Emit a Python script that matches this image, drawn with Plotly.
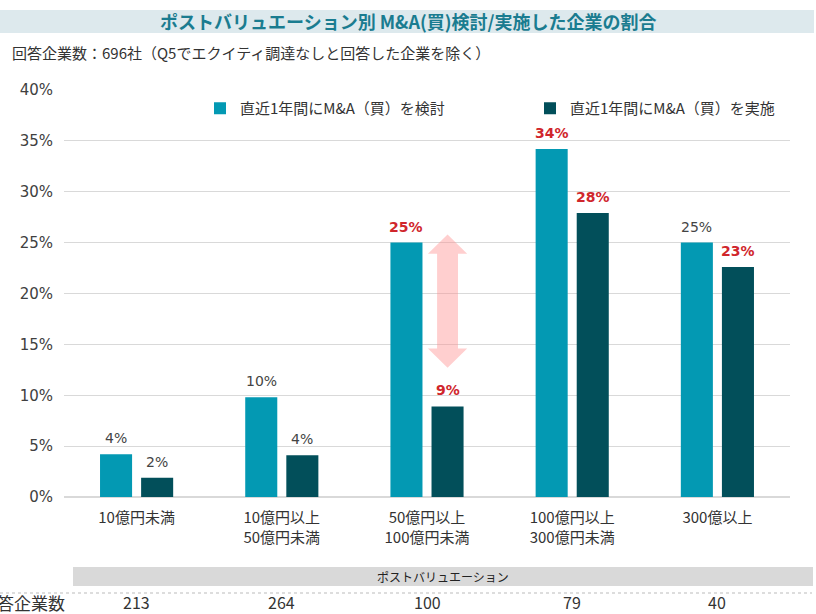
import plotly.graph_objects as go

categories = ["10億円未満", "10億円以上<br>50億円未満", "50億円以上<br>100億円未満", "100億円以上<br>300億円未満", "300億以上"]
considered = [4.2, 9.8, 25.0, 34.2, 25.0]
executed = [1.9, 4.1, 8.9, 27.9, 22.6]
considered_highlight = [False, False, True, True, False]
executed_highlight = [False, False, True, True, True]
respondents = [213, 264, 100, 79, 40]
name_considered = "直近1年間にM&A（買）を検討"
name_executed = "直近1年間にM&A（買）を実施"
title_text = "ポストバリュエーション別 M&A(買)検討/実施した企業の割合"
subtitle_text = "回答企業数：696社（Q5でエクイティ調達なしと回答した企業を除く）"
band_text = "ポストバリュエーション"
row_label = "回答企業数"
y_ticks = [0, 5, 10, 15, 20, 25, 30, 35, 40]
y_ticktext = [f"{v}%" for v in y_ticks]
arrow_top = 25.8
arrow_bottom = 12.7

TEAL = "#0399B3"
DARK = "#024F5A"
RED = "#D0262C"
GREY = "#444444"
FONT = "Noto Sans CJK JP, Noto Sans, sans-serif"
NUMFONT = "DejaVu Sans, sans-serif"

W, H = 816, 614
L, R, T, B = 64, 26, 90, 117
PW, PH = W - L - R, H - T - B


def px_x(x):
    return (x - L) / PW


def px_y(y):
    return (H - B - y) / PH


x_idx = list(range(len(categories)))
OFF = 0.1415

fig = go.Figure()
fig.add_trace(go.Bar(x=x_idx, y=considered, name=name_considered, marker_color=TEAL,
                     marker_line_width=0, legend="legend"))
fig.add_trace(go.Bar(x=x_idx, y=executed, name=name_executed, marker_color=DARK,
                     marker_line_width=0, legend="legend2"))

annotations = []
for i, (v, h) in enumerate(zip(considered, considered_highlight)):
    t = f"{round(v)}%"
    annotations.append(dict(x=i - OFF, y=v, xref="x", yref="y", yanchor="bottom", yshift=6,
                            text=f"<b>{t}</b>" if h else t, showarrow=False,
                            font=dict(size=14, color=RED if h else GREY, family=NUMFONT)))
for i, (v, h) in enumerate(zip(executed, executed_highlight)):
    t = f"{round(v)}%"
    annotations.append(dict(x=i + OFF, y=v, xref="x", yref="y", yanchor="bottom", yshift=6,
                            text=f"<b>{t}</b>" if h else t, showarrow=False,
                            font=dict(size=14, color=RED if h else GREY, family=NUMFONT)))
for i, n in enumerate(respondents):
    annotations.append(dict(x=i, y=px_y(602), xref="x", yref="paper", yanchor="middle",
                            text=str(n), showarrow=False,
                            font=dict(size=16, color="#333333", family=FONT)))
annotations.append(dict(x=px_x(67), y=px_y(602), xref="paper", yref="paper", xanchor="right",
                        yanchor="middle", text=row_label, showarrow=False,
                        font=dict(size=17, color="#333333", family=FONT)))
annotations.append(dict(x=px_x((73 + 813) / 2), y=px_y(576), xref="paper", yref="paper",
                        xanchor="center", yanchor="middle", text=band_text, showarrow=False,
                        font=dict(size=12, color="#222222", family=FONT)))
annotations.append(dict(x=px_x(W / 2), y=px_y(21), xref="paper", yref="paper", xanchor="center",
                        yanchor="middle", text=f"<b>{title_text}</b>", showarrow=False,
                        font=dict(size=18, color="#1A7C90", family=FONT)))
annotations.append(dict(x=px_x(10), y=px_y(52), xref="paper", yref="paper", xanchor="left",
                        yanchor="middle", text=subtitle_text, showarrow=False,
                        font=dict(size=15, color="#333333", family=FONT)))

# pink double arrow over the executed bar of the 3rd category
ax = 2 + OFF
hw = 0.135
sw = 0.072
hh = 1.9
path = (f"M {ax} {arrow_top} L {ax+hw} {arrow_top-hh} L {ax+sw} {arrow_top-hh} "
        f"L {ax+sw} {arrow_bottom+hh} L {ax+hw} {arrow_bottom+hh} L {ax} {arrow_bottom} "
        f"L {ax-hw} {arrow_bottom+hh} L {ax-sw} {arrow_bottom+hh} L {ax-sw} {arrow_top-hh} "
        f"L {ax-hw} {arrow_top-hh} Z")

shapes = [
    dict(type="path", path=path, xref="x", yref="y", fillcolor="rgba(255,140,140,0.42)",
         line=dict(width=0), layer="above"),
    dict(type="rect", xref="paper", yref="paper", x0=px_x(0), x1=px_x(814),
         y0=px_y(10), y1=px_y(33), fillcolor="#DDE9ED", line=dict(width=0), layer="below"),
    dict(type="rect", xref="paper", yref="paper", x0=px_x(73), x1=px_x(813),
         y0=px_y(567), y1=px_y(586), fillcolor="#D9D9D9", line=dict(width=0), layer="below"),
    dict(type="line", xref="paper", yref="paper", x0=px_x(0), x1=px_x(812),
         y0=px_y(593), y1=px_y(593), line=dict(color="#BBBBBB", width=1, dash="dot")),
]

legend_common = dict(orientation="h", xanchor="left", yanchor="top",
                     font=dict(size=15, color="#333333", family=FONT),
                     bgcolor="rgba(0,0,0,0)", itemclick=False)

fig.update_layout(
    width=W, height=H,
    margin=dict(l=L, r=R, t=T, b=B),
    paper_bgcolor="white", plot_bgcolor="white",
    barmode="group", bargap=0.434, bargroupgap=0.22,
    font=dict(family=FONT, color="#333333"),
    showlegend=True,
    legend=dict(x=px_x(200), y=px_y(92), **legend_common),
    legend2=dict(x=px_x(530), y=px_y(92), **legend_common),
    xaxis=dict(tickmode="array", tickvals=x_idx, ticktext=categories, range=[-0.5, 4.5],
               showgrid=False, zeroline=False, showline=False, ticks="",
               ticklabelstandoff=10,
               tickfont=dict(size=15, color="#333333"), fixedrange=True),
    yaxis=dict(range=[0, 40], tickmode="array", tickvals=y_ticks, ticktext=y_ticktext,
               showgrid=True, gridcolor="#D9D9D9", gridwidth=1, zeroline=True,
               zerolinecolor="#D9D9D9", showline=False, ticks="", ticklabelstandoff=10,
               tickfont=dict(size=15, color="#404040", family=NUMFONT)),
    annotations=annotations,
    shapes=shapes,
)

fig.write_html("out.html", config={"displayModeBar": False},
               post_script="document.body.style.margin='0px';document.body.style.overflow='hidden';")
